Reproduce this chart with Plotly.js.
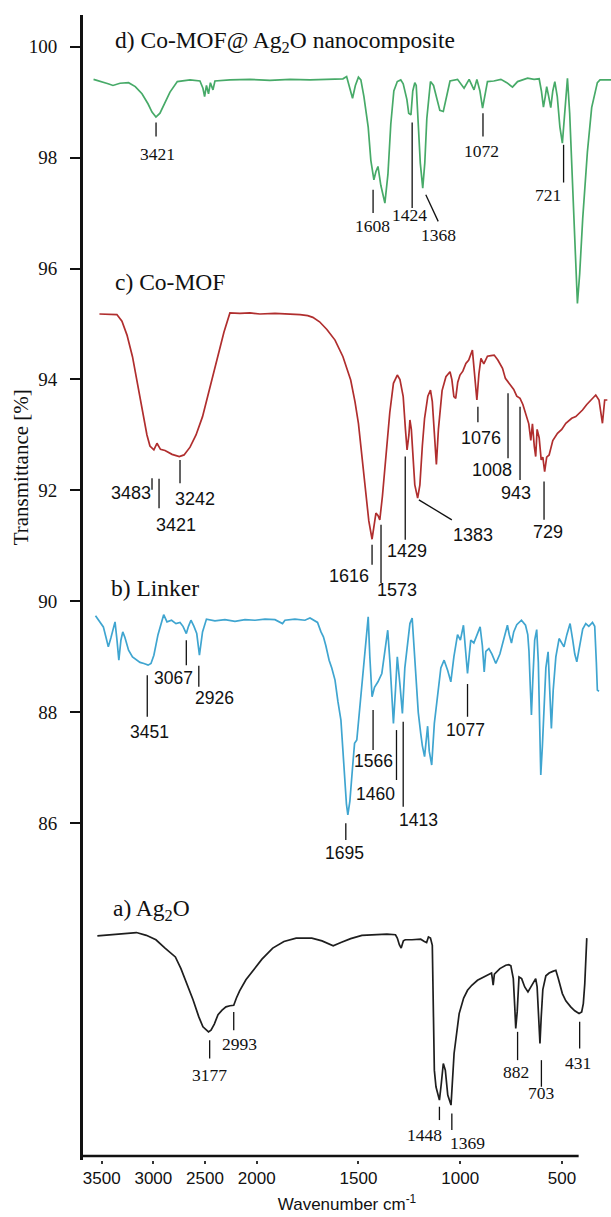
<!DOCTYPE html>
<html>
<head>
<meta charset="utf-8">
<script src="https://cdn.plot.ly/plotly-3.0.1.min.js"></script>
<style>html,body{margin:0;padding:0;background:#fff}#chart{width:611px;height:1217px}</style>
</head>
<body>
<div id="chart"></div>
<script>
// ---------- DATA (wavenumber cm-1 as read on the drawn axis, transmittance %) ----------
const seriesNames = ["a) Ag<sub>2</sub>O", "b) Linker", "c) Co-MOF", "d) Co-MOF@ Ag<sub>2</sub>O nanocomposite"];

const agWN = [3542,3420,3275,3164,3068,2975,2887,2787,2733,2674,2616,2560,2520,2466,2442,2410,2374,2335,2297,2258,2222,2196,2165,2104,2033,1974,1921,1866,1806,1729,1679,1624,1586,1538,1483,1424,1360,1318,1309,1299,1290,1279,1270,1237,1194,1176,1165,1156,1146,1137,1132,1127,1119,1113,1102,1093,1083,1073,1061,1045,1030,1005,983,964,943,915,889,866,846,842,838,832,805,776,761,751,739,732,727,720,714,711,698,683,667,649,629,622,616,608,602,594,579,563,545,530,518,498,481,457,437,416,403,395,388,383,378];
const agT = [83.97,83.99,84.02,84.03,83.98,83.90,83.75,83.59,83.38,83.11,82.82,82.51,82.33,82.24,82.27,82.38,82.55,82.63,82.69,82.71,82.72,82.85,82.98,83.18,83.35,83.55,83.75,83.87,83.93,83.93,83.88,83.79,83.85,83.92,83.98,83.99,84.00,83.99,83.93,83.81,83.75,83.88,83.90,83.90,83.91,83.87,83.85,83.95,83.93,83.80,82.80,81.55,81.25,81.16,81.01,81.30,81.67,81.55,81.10,80.92,81.85,82.57,82.85,82.99,83.08,83.17,83.22,83.26,83.30,83.20,83.08,83.28,83.38,83.44,83.45,83.43,83.20,82.70,82.30,82.60,83.15,83.23,83.20,83.05,82.96,83.08,83.20,83.05,82.60,82.03,82.50,83.00,83.25,83.30,83.33,83.35,83.20,82.93,82.80,82.69,82.62,82.57,82.60,82.75,83.10,83.50,83.93];

const linkerWN = [3560,3526,3484,3458,3436,3410,3391,3371,3352,3334,
3314,3296,3275,3240,3202,3168,3129,3091,3051,3023,
2995,2955,2900,2868,2824,2781,2742,2713,2681,2660,
2636,2607,2580,2554,2524,2486,2404,2307,2210,2113,
2016,1959,1910,1873,1861,1812,1763,1738,1701,1684,
1672,1660,1644,1631,1615,1601,1586,1576,1567,1559,
1552,1542,1529,1519,1508,1493,1471,1452,1444,1433,
1421,1404,1385,1370,1356,1345,1328,1318,1309,1296,
1284,1272,1261,1247,1236,1225,1216,1206,1194,1186,
1175,1167,1160,1152,1140,1127,1108,1095,1079,1061,
1046,1031,1013,999,984,975,964,955,948,933,
918,902,891,882,874,859,844,825,805,785,
768,759,748,737,722,699,679,668,662,656,
650,643,634,624,616,609,604,596,589,579,
568,559,552,543,530,514,501,490,476,460,
447,437,427,412,398,383,368,350,339,331,
326,318];
const linkerT = [89.74,89.65,89.54,89.35,89.18,89.35,89.50,89.63,89.30,88.94,
89.30,89.45,89.35,89.12,89.00,88.95,88.90,88.88,88.85,88.88,
89.03,89.40,89.76,89.63,89.66,89.60,89.62,89.55,89.42,89.55,
89.66,89.55,89.42,89.03,89.45,89.68,89.65,89.67,89.64,89.67,
89.66,89.68,89.67,89.60,89.66,89.68,89.66,89.70,89.62,89.45,
89.36,89.20,88.94,88.80,88.58,88.20,87.86,87.30,86.78,86.35,
86.15,86.40,87.00,87.44,87.50,88.10,88.90,89.72,89.00,88.28,
88.45,88.55,88.70,89.10,89.48,88.90,87.80,88.40,89.00,88.50,
87.98,88.80,89.20,89.60,89.70,89.10,88.60,88.00,87.62,87.40,
87.20,87.50,87.75,87.30,87.05,87.80,88.45,88.80,88.94,88.75,
88.55,89.00,89.40,89.30,89.57,89.20,88.70,89.05,89.30,89.25,
89.40,89.54,89.20,88.73,89.10,89.15,89.05,88.88,89.05,89.35,
89.57,89.40,89.25,89.45,89.58,89.66,89.57,89.40,89.10,88.50,
87.95,88.60,89.30,89.49,88.90,87.70,86.87,87.40,88.10,88.80,
89.09,88.40,87.71,88.40,89.00,89.33,89.25,89.18,89.40,89.60,
89.30,89.05,88.91,89.25,89.50,89.60,89.55,89.62,89.55,88.90,
88.40,88.38];

const mofWN = [3522,3420,3353,3304,3255,3202,3149,3089,3062,3033,
2995,2965,2931,2887,2819,2749,2703,2645,2587,2524,
2452,2373,2317,2259,2162,2065,1984,1910,1836,1787,
1749,1724,1691,1655,1615,1576,1538,1517,1500,1483,
1462,1449,1433,1424,1414,1404,1395,1382,1366,1346,
1328,1309,1296,1280,1269,1261,1252,1247,1240,1233,
1223,1209,1198,1186,1175,1159,1146,1137,1129,1117,
1107,1089,1070,1050,1041,1031,1022,1012,1001,987,
972,958,940,931,918,908,898,884,866,849,
833,815,792,778,765,751,737,722,706,692,
678,663,653,645,636,629,622,612,602,594,
585,575,563,545,522,501,481,452,432,413,
399,378,359,334,318,301,290,277];
const mofT = [95.18,95.18,95.17,95.05,94.80,94.41,93.85,93.27,93.00,92.80,
92.73,92.85,92.74,92.72,92.65,92.61,92.64,92.78,93.00,93.33,
93.85,94.41,94.85,95.20,95.19,95.20,95.18,95.19,95.18,95.17,
95.15,95.12,95.04,94.90,94.71,94.41,93.99,93.60,93.21,92.60,
91.89,91.45,91.12,91.35,91.59,91.55,91.47,91.90,92.61,93.40,
93.93,94.08,94.00,93.69,93.10,92.73,93.00,93.27,93.10,92.60,
92.10,91.86,92.10,92.80,93.30,93.70,93.81,93.60,93.10,92.47,
93.10,93.80,94.05,94.14,94.00,93.69,93.66,93.95,94.08,94.15,
94.29,94.35,94.53,94.20,93.63,94.10,94.38,94.28,94.42,94.43,
94.44,94.35,94.20,94.02,93.96,93.90,93.82,93.70,93.66,93.55,
93.40,93.20,92.90,93.20,92.80,92.61,93.10,92.95,92.55,92.60,
92.34,92.60,92.64,92.90,93.03,93.10,93.21,93.30,93.33,93.40,
93.45,93.55,93.63,93.72,93.63,93.21,93.63,93.63];

const compWN = [3579,3516,3438,3391,3323,3240,3175,3110,3052,3013,
2975,2936,2887,2839,2768,2645,2549,2520,2504,2486,
2466,2448,2423,2404,2258,2065,1935,1836,1738,1640,
1576,1558,1545,1529,1515,1500,1488,1473,1452,1439,
1424,1414,1404,1390,1370,1355,1341,1326,1309,1292,
1280,1262,1253,1242,1233,1223,1216,1209,1196,1184,
1174,1164,1146,1131,1114,1100,1083,1070,1050,1013,
981,956,932,918,903,890,876,866,835,800,
771,743,718,669,637,612,601,591,582,575,
565,555,545,535,523,510,498,486,473,462,
447,435,424,413,398,375,354,326,313,259];
const compT = [99.41,99.38,99.33,99.30,99.34,99.35,99.28,99.15,98.97,98.82,
98.73,98.80,98.98,99.18,99.37,99.40,99.38,99.25,99.10,99.30,
99.15,99.35,99.22,99.38,99.40,99.41,99.39,99.41,99.40,99.41,
99.42,99.46,99.30,99.07,99.30,99.45,99.40,99.10,98.55,97.95,
97.60,97.75,97.84,97.50,97.18,97.70,98.60,99.20,99.37,99.40,
99.33,99.05,98.80,98.77,99.20,99.35,99.30,98.80,97.90,97.45,
97.90,98.70,99.37,99.30,99.05,98.85,98.83,99.05,99.38,99.41,
99.25,99.41,99.22,99.41,99.20,98.89,99.15,99.37,99.38,99.41,
99.35,99.27,99.37,99.43,99.41,99.42,99.20,98.91,99.10,99.28,
99.10,98.90,99.20,99.37,99.10,98.55,98.26,98.80,99.43,98.80,
97.40,96.10,95.37,95.90,96.90,98.10,98.90,99.35,99.40,99.40];

const xTickLabels = [3500, 3000, 2500, 2000, 1500, 1000, 500];
const yTickLabels = [86, 88, 90, 92, 94, 96, 98, 100];

// peak labels: [text, line x0, line y0, line x1, line y1, text x, text y] (data units)
const compPeaks = [
  ["3421", 2974, 98.63, 2974, 98.38, 2957, 98.07],
  ["1608", 1428, 97.42, 1428, 97.00, 1433, 96.77],
  ["1424", 1236, 98.63, 1236, 97.09, 1251, 96.97],
  ["1368", 1169, 97.33, 1108, 96.85, 1108, 96.61],
  ["1072", 888, 98.80, 888, 98.38, 897, 98.11],
  ["721", 492, 98.23, 492, 97.55, 571, 97.33]
];
const mofPeaks = [
  ["3483", 3013, 92.22, 3013, 92.01, 3220, 91.95],
  ["3421", 2945, 92.21, 2945, 91.68, 2784, 91.38],
  ["3242", 2742, 92.55, 2742, 92.13, 2594, 91.84],
  ["1616", 1433, 91.02, 1433, 90.66, 1548, 90.46],
  ["1573", 1389, 91.38, 1389, 90.33, 1309, 90.21],
  ["1429", 1270, 92.61, 1270, 91.11, 1261, 90.91],
  ["1383", 1203, 91.83, 1041, 91.47, 935, 91.20],
  ["1076", 913, 93.51, 913, 93.23, 899, 92.94],
  ["1008", 765, 93.75, 765, 92.58, 846, 92.37],
  ["943", 706, 93.51, 706, 92.19, 727, 91.96],
  ["729", 588, 92.16, 588, 91.47, 571, 91.25]
];
const linkerPeaks = [
  ["3451", 3059, 88.67, 3059, 87.92, 3033, 87.65],
  ["3067", 2681, 89.30, 2681, 88.85, 2806, 88.61],
  ["2926", 2560, 88.84, 2560, 88.46, 2410, 88.25],
  ["1695", 1562, 86.00, 1562, 85.70, 1567, 85.47],
  ["1566", 1428, 88.04, 1428, 87.32, 1424, 87.13],
  ["1460", 1313, 87.68, 1313, 86.78, 1414, 86.53],
  ["1413", 1280, 87.83, 1280, 86.30, 1203, 86.05],
  ["1077", 964, 88.51, 964, 87.92, 972, 87.68]
];
const agPeaks = [
  ["3177", 2455, 82.09, 2455, 81.76, 2455, 81.46],
  ["2993", 2222, 82.60, 2222, 82.27, 2165, 82.03],
  ["1448", 1102, 80.89, 1102, 80.65, 1175, 80.38],
  ["1369", 1041, 80.77, 1041, 80.47, 964, 80.23],
  ["882", 718, 82.24, 718, 81.73, 727, 81.52],
  ["703", 601, 81.73, 601, 81.25, 601, 81.13],
  ["431", 413, 82.42, 413, 81.94, 419, 81.68]
];
// series label anchors [x wavenumber, y transmittance]
const seriesLabelPos = [[3410, 84.44], [3429, 90.24], [3391, 95.76], [3391, 100.08]];

// ---------- AXIS: split scale, region below 2000 cm-1 expanded ----------
const EXPAND = 1.97;
const toAxis = w => (w >= 2000 ? w : 2000 - EXPAND * (2000 - w));
const X_START = 3681, X_END = 259, X_LINE_END = 418;
const Y_MIN = 79.93, Y_MAX = 100.57, Y_AXIS_BASE = 80;

const colors = ["#1e1e1e", "#3fa5d0", "#b02e2e", "#47aa68"];
const serif = "Liberation Serif", sans = "Liberation Sans";

const sets = [[agWN, agT], [linkerWN, linkerT], [mofWN, mofT], [compWN, compT]];
const traces = sets.map((s, i) => ({
  type: "scatter", mode: "lines",
  x: s[0].map(toAxis), y: s[1],
  line: {color: colors[i], width: 1.7},
  name: seriesNames[i], hoverinfo: "x+y"
}));

const shapes = [];
const annotations = [];
const peakGroups = [
  {peaks: agPeaks, font: {family: serif, size: 17.5, color: "#111"}},
  {peaks: linkerPeaks, font: {family: sans, size: 17.5, color: "#111"}},
  {peaks: mofPeaks, font: {family: sans, size: 18, color: "#111"}},
  {peaks: compPeaks, font: {family: serif, size: 17.5, color: "#111"}}
];
peakGroups.forEach(g => g.peaks.forEach(p => {
  shapes.push({type: "line", xref: "x", yref: "y",
    x0: toAxis(p[1]), y0: p[2], x1: toAxis(p[3]), y1: p[4],
    line: {color: "#111", width: 1.3}});
  annotations.push({xref: "x", yref: "y", x: toAxis(p[5]), y: p[6], text: p[0],
    showarrow: false, xanchor: "center", yanchor: "middle", font: g.font});
}));
seriesLabelPos.forEach((p, i) => annotations.push({
  xref: "x", yref: "y", x: toAxis(p[0]), y: p[1], text: seriesNames[i],
  showarrow: false, xanchor: "left", yanchor: "middle",
  font: {family: serif, size: 23.5, color: "#111"}
}));
// y-axis title placed as in the reference (upper middle)
annotations.push({xref: "paper", yref: "y", x: -0.117, y: 92.42, text: "Transmittance [%]",
  textangle: -90, showarrow: false, xanchor: "center", yanchor: "middle",
  font: {family: serif, size: 21, color: "#111"}});
// x axis line (ends before the right edge as in the reference)
shapes.push({type: "line", xref: "x", yref: "y", x0: toAxis(X_START), x1: toAxis(X_LINE_END),
  y0: Y_AXIS_BASE, y1: Y_AXIS_BASE, line: {color: "#111", width: 2.5}});

const layout = {
  width: 611, height: 1217,
  margin: {l: 83, r: 0, t: 15, b: 57},
  paper_bgcolor: "#fff", plot_bgcolor: "#fff",
  showlegend: false,
  font: {family: serif, color: "#111"},
  xaxis: {
    range: [toAxis(X_START), toAxis(X_END)],
    tickvals: xTickLabels.map(toAxis), ticktext: xTickLabels.map(String),
    ticks: "outside", ticklen: 3, tickwidth: 2, tickcolor: "#333",
    showline: false, showgrid: false, zeroline: false,
    tickfont: {family: sans, size: 17, color: "#111"},
    title: {text: "Wavenumber cm<sup>-1</sup>", font: {family: sans, size: 17, color: "#111"}, standoff: 10}
  },
  yaxis: {
    range: [Y_MIN, Y_MAX], tickvals: yTickLabels,
    ticks: "outside", ticklen: 10, tickwidth: 2, tickcolor: "#111",
    showline: true, linewidth: 3, linecolor: "#111",
    showgrid: false, zeroline: false,
    tickfont: {family: serif, size: 19, color: "#111"},
    ticklabelstandoff: 9
  },
  shapes: shapes,
  annotations: annotations
};

Plotly.newPlot("chart", traces, layout, {displayModeBar: false, staticPlot: true});
</script>
</body>
</html>
